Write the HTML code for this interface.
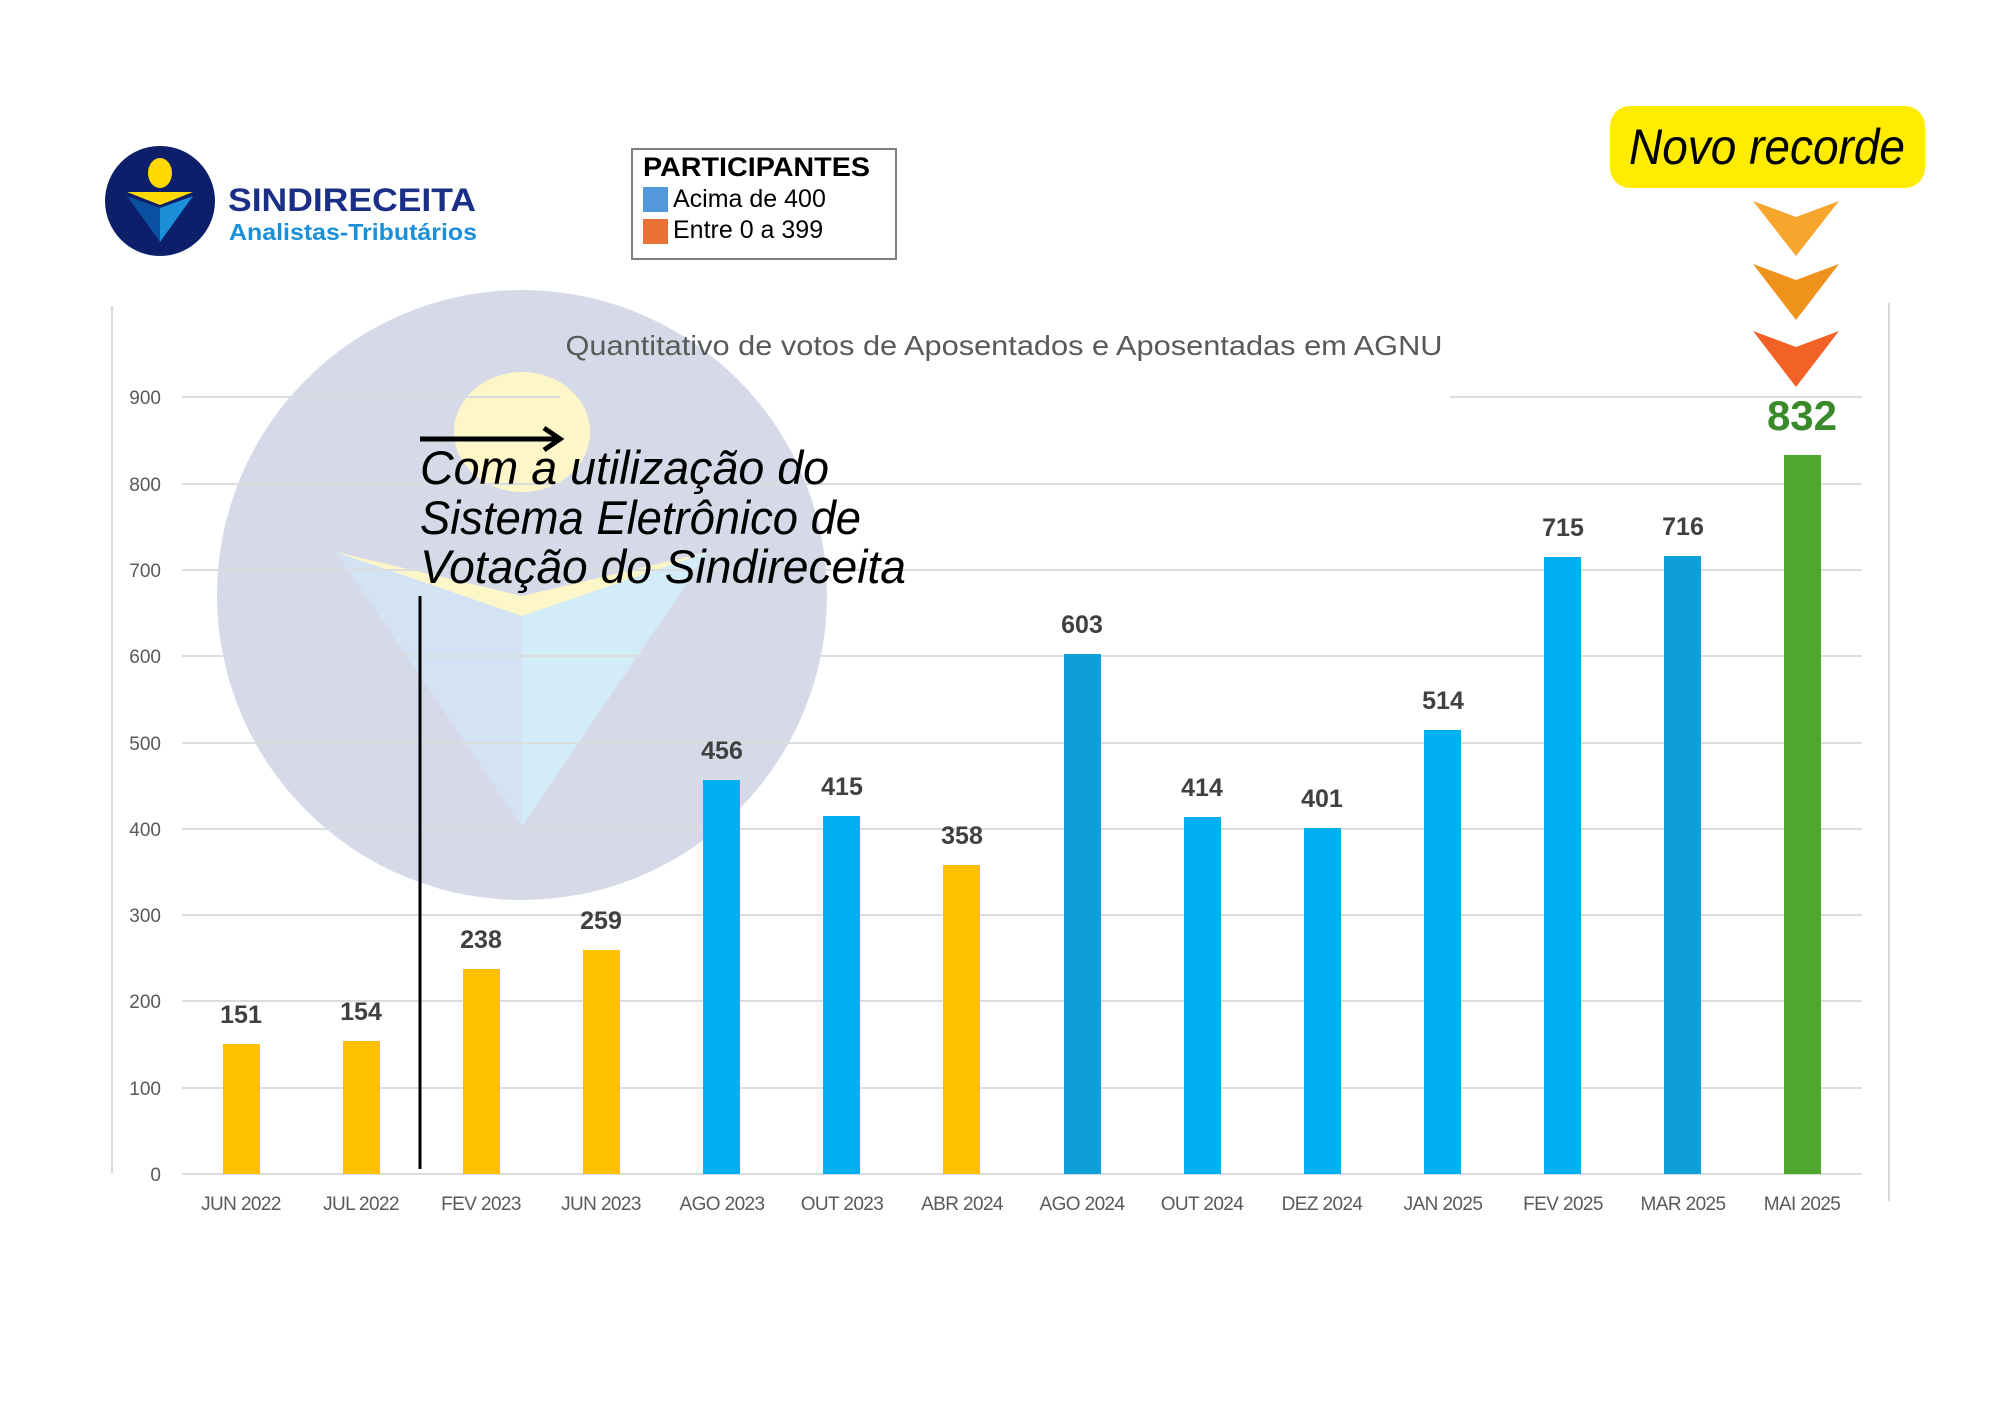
<!DOCTYPE html>
<html><head><meta charset="utf-8"><style>
html,body{margin:0;padding:0;background:#fff;}
svg{display:block;}
</style></head><body>
<svg width="2000" height="1414" viewBox="0 0 2000 1414" xmlns="http://www.w3.org/2000/svg" font-family="Liberation Sans, sans-serif">
<rect width="2000" height="1414" fill="#fff"/>
<g transform="translate(0,-4)">
<circle cx="522" cy="599" r="305" fill="#d6dae8"/>
<ellipse cx="522" cy="436" rx="68" ry="60" fill="#fdf6c8"/>
<polygon points="336,556 522,600 708,556 522,650" fill="#fdf6c8"/>
<polygon points="336,556 522,620 522,830" fill="#d3e3f4"/>
<polygon points="708,556 522,620 522,830" fill="#d2ecf8"/>
<line x1="112" y1="310" x2="112" y2="1177" stroke="#d9d9d9" stroke-width="2"/>
<line x1="1889" y1="307" x2="1889" y2="1205" stroke="#d9d9d9" stroke-width="2"/>
<g stroke="#d9dde0" stroke-width="2">
<line x1="182" y1="1178" x2="1862" y2="1178"/>
<line x1="182" y1="1092" x2="1862" y2="1092"/>
<line x1="182" y1="1005" x2="1862" y2="1005"/>
<line x1="182" y1="919" x2="1862" y2="919"/>
<line x1="182" y1="833" x2="1862" y2="833"/>
<line x1="182" y1="747" x2="1862" y2="747"/>
<line x1="182" y1="660" x2="1862" y2="660"/>
<line x1="182" y1="574" x2="1862" y2="574"/>
<line x1="182" y1="488" x2="1862" y2="488"/>
<line x1="182" y1="401" x2="560" y2="401"/>
<line x1="1450" y1="401" x2="1862" y2="401"/>
</g>
<g font-size="19" fill="#595959" text-anchor="end">
<text x="161" y="1185">0</text><text x="161" y="1099">100</text><text x="161" y="1012">200</text>
<text x="161" y="926">300</text><text x="161" y="840">400</text><text x="161" y="754">500</text>
<text x="161" y="667">600</text><text x="161" y="581">700</text><text x="161" y="495">800</text>
<text x="161" y="408">900</text>
</g>
<text x="1004" y="359" font-size="28" fill="#595959" text-anchor="middle" textLength="877" lengthAdjust="spacingAndGlyphs">Quantitativo de votos de Aposentados e Aposentadas em AGNU</text>
<g>
<rect x="223" y="1048" width="37" height="130" fill="#ffc000"/>
<rect x="343" y="1045" width="37" height="133" fill="#ffc000"/>
<rect x="463" y="973" width="37" height="205" fill="#ffc000"/>
<rect x="583" y="954" width="37" height="224" fill="#ffc000"/>
<rect x="703" y="784" width="37" height="394" fill="#00b0f0"/>
<rect x="823" y="820" width="37" height="358" fill="#00b0f0"/>
<rect x="943" y="869" width="37" height="309" fill="#ffc000"/>
<rect x="1064" y="658" width="37" height="520" fill="#0f9fd8"/>
<rect x="1184" y="821" width="37" height="357" fill="#00b0f0"/>
<rect x="1304" y="832" width="37" height="346" fill="#00b0f0"/>
<rect x="1424" y="734" width="37" height="444" fill="#00b0f0"/>
<rect x="1544" y="561" width="37" height="617" fill="#00b0f0"/>
<rect x="1664" y="560" width="37" height="618" fill="#0f9fd8"/>
<rect x="1784" y="459" width="37" height="719" fill="#4ea72e"/>
</g>
<g font-size="25" font-weight="bold" fill="#404040" text-anchor="middle">
<text x="241" y="1027">151</text><text x="361" y="1024">154</text><text x="481" y="952">238</text>
<text x="601" y="933">259</text><text x="722" y="763">456</text><text x="842" y="799">415</text>
<text x="962" y="848">358</text><text x="1082" y="637">603</text><text x="1202" y="800">414</text>
<text x="1322" y="811">401</text><text x="1443" y="713">514</text><text x="1563" y="540">715</text>
<text x="1683" y="539">716</text>
</g>
<text x="1802" y="434" font-size="42" font-weight="bold" fill="#3a8a2c" text-anchor="middle">832</text>
<g font-size="19" fill="#595959" text-anchor="middle" letter-spacing="-0.6">
<text x="241" y="1214">JUN 2022</text><text x="361" y="1214">JUL 2022</text><text x="481" y="1214">FEV 2023</text>
<text x="601" y="1214">JUN 2023</text><text x="722" y="1214">AGO 2023</text><text x="842" y="1214">OUT 2023</text>
<text x="962" y="1214">ABR 2024</text><text x="1082" y="1214">AGO 2024</text><text x="1202" y="1214">OUT 2024</text>
<text x="1322" y="1214">DEZ 2024</text><text x="1443" y="1214">JAN 2025</text><text x="1563" y="1214">FEV 2025</text>
<text x="1683" y="1214">MAR 2025</text><text x="1802" y="1214">MAI 2025</text>
</g>
<line x1="420" y1="600" x2="420" y2="1173" stroke="#000" stroke-width="3"/>
<line x1="420" y1="443" x2="556" y2="443" stroke="#000" stroke-width="5"/>
<polyline points="544,432 560,443 544,454" fill="none" stroke="#000" stroke-width="5"/>
<g font-size="47" font-style="italic" fill="#000">
<text x="420" y="488" textLength="409" lengthAdjust="spacingAndGlyphs">Com a utilização do</text>
<text x="420" y="538" textLength="441" lengthAdjust="spacingAndGlyphs">Sistema Eletrônico de</text>
<text x="420" y="587" textLength="486" lengthAdjust="spacingAndGlyphs">Votação do Sindireceita</text>
</g>
</g>
<ellipse cx="160" cy="201" rx="55" ry="55" fill="#0d1f6b"/>
<ellipse cx="160" cy="173" rx="12" ry="15" fill="#ffd900"/>
<polygon points="127,192 193,192 160,205" fill="#ffd900"/>
<polygon points="127,196 160,208 160,242" fill="#0a4fa0"/>
<polygon points="193,196 160,208 160,242" fill="#1b8fd8"/>
<text x="228" y="211" font-size="32" font-weight="bold" fill="#1b2f86" textLength="248" lengthAdjust="spacingAndGlyphs">SINDIRECEITA</text>
<text x="229" y="240" font-size="23" font-weight="bold" fill="#1b8fd8" textLength="248" lengthAdjust="spacingAndGlyphs">Analistas-Tributários</text>
<rect x="632" y="149" width="264" height="110" fill="#fff" stroke="#7f7f7f" stroke-width="2"/>
<text x="643" y="176" font-size="27" font-weight="bold" fill="#000" textLength="227" lengthAdjust="spacingAndGlyphs">PARTICIPANTES</text>
<rect x="643" y="187" width="25" height="25" fill="#5499db"/>
<rect x="643" y="219" width="25" height="25" fill="#ea7235"/>
<text x="673" y="207" font-size="25" fill="#000">Acima de 400</text>
<text x="673" y="238" font-size="25" fill="#000">Entre 0 a 399</text>
<rect x="1610" y="106" width="315" height="82" rx="20" fill="#ffec00"/>
<text x="1767" y="164" font-size="50" font-style="italic" fill="#000" text-anchor="middle" textLength="276" lengthAdjust="spacingAndGlyphs">Novo recorde</text>
<polygon points="1753,201 1796,217 1839,201 1796,256" fill="#f8a52e"/>
<polygon points="1753,264 1796,280 1839,264 1796,320" fill="#ee921c"/>
<polygon points="1753,331 1796,347 1839,331 1796,387" fill="#f26125"/>
</svg>
</body></html>
